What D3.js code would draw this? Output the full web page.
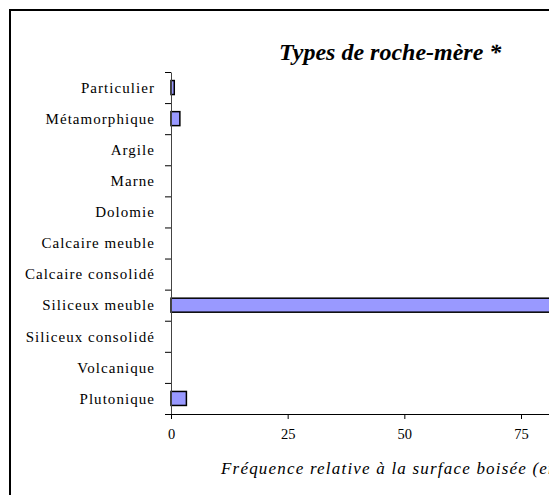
<!DOCTYPE html>
<meta charset="utf-8">
<head>
    <title>Types de roche-mère</title>
    <script src="https://cdn.jsdelivr.net/npm/d3@7"></script>
    <style>
        body { margin: 0; background: #fff; }
        svg text { font-family: "Liberation Serif", "Times New Roman", serif; fill: #000; }
    </style>
</head>
<body>
<div id="chart"></div>
<script>
    // data, top to bottom as in the picture
    const categories = ["Particulier", "Métamorphique", "Argile", "Marne", "Dolomie",
        "Calcaire meuble", "Calcaire consolidé", "Siliceux meuble",
        "Siliceux consolidé", "Volcanique", "Plutonique"];
    const values = [0.7, 1.9, 0, 0, 0, 0, 0, 90, 0, 0, 3.3];
    const xTicks = [0, 25, 50, 75];

    const width = 549, height = 495;
    const svg = d3.select("#chart").append("svg")
        .attr("width", width)
        .attr("height", height);

    // frame (cut off at right and bottom)
    svg.append("rect")
        .attr("x", 10).attr("y", 10)
        .attr("width", 700).attr("height", 700)
        .attr("fill", "none")
        .attr("stroke", "#000")
        .attr("stroke-width", 2);

    const plotTop = 72, plotBottom = 414, plotLeft = 171;

    const x = d3.scaleLinear().domain([0, 100]).range([plotLeft, plotLeft + 100 * 350 / 75]);
    const y = d3.scaleBand().domain(categories)
        .range([plotTop, plotBottom])
        .paddingInner(0.55).paddingOuter(0.275);

    // bars (zero values drawn nothing)
    svg.append("g").selectAll("rect")
        .data(categories.filter((d, i) => values[i] > 0))
        .enter().append("rect")
        .attr("x", x(0))
        .attr("y", d => y(d))
        .attr("width", d => x(values[categories.indexOf(d)]) - x(0))
        .attr("height", y.bandwidth())
        .attr("fill", "#9999ff")
        .attr("stroke", "#000")
        .attr("stroke-width", 1.5);

    // y axis with ticks between categories
    const yEdges = d3.scaleLinear().domain([0, categories.length]).range([plotTop, plotBottom]);
    const yAxis = svg.append("g")
        .attr("transform", "translate(" + plotLeft + ",0)")
        .call(d3.axisLeft(yEdges).tickValues(d3.range(categories.length + 1)).tickFormat("").tickSize(6).tickSizeOuter(0));
    yAxis.select(".domain").attr("stroke", "#444");

    svg.append("g").selectAll("text")
        .data(categories)
        .enter().append("text")
        .attr("x", 155)
        .attr("y", d => y(d) + y.bandwidth() / 2)
        .attr("dy", "0.35em")
        .attr("text-anchor", "end")
        .attr("font-size", 15)
        .attr("letter-spacing", 1.05)
        .text(d => d);

    // x axis
    const xAxis = svg.append("g")
        .attr("transform", "translate(0," + plotBottom + ")")
        .call(d3.axisBottom(x).tickValues(xTicks).tickSize(5).tickSizeOuter(0).tickPadding(10));
    xAxis.selectAll("text")
        .attr("font-size", 14.5)
        .style("font-family", "'Liberation Serif', serif");
    xAxis.select(".domain").attr("stroke-width", 1.2);

    // title and axis label
    svg.append("text")
        .attr("x", 279).attr("y", 60)
        .attr("font-size", 24)
        .attr("font-weight", "bold")
        .attr("font-style", "italic")
        .text("Types de roche-mère *");

    svg.append("text")
        .attr("x", 221).attr("y", 474)
        .attr("font-size", 17)
        .attr("font-style", "italic")
        .attr("letter-spacing", 1.2)
        .text("Fréquence relative à la surface boisée (en %)");
</script>
</body>
</html>
